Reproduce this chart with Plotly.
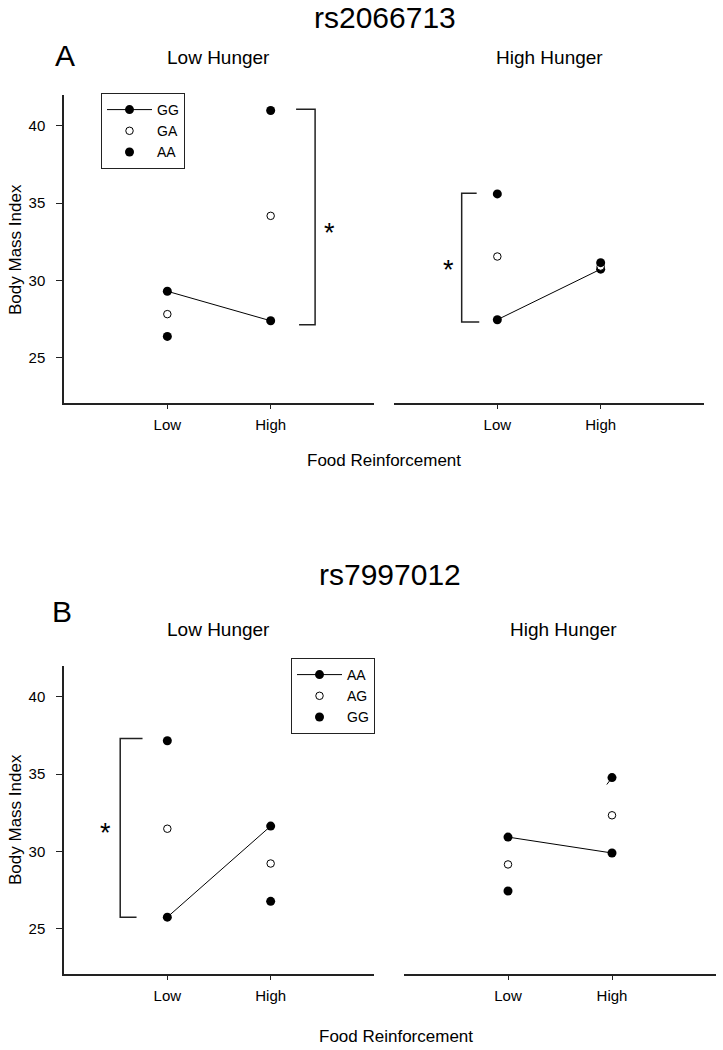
import plotly.graph_objects as go

# ---------------- data ----------------
levels = ["Low", "High"]
level_x = [1, 2]

# Panel A: rs2066713
a_low_hunger = {"GG": [29.3, 27.39], "GA": [27.82, 34.18], "AA": [26.38, 41.0]}
a_high_hunger = {"GG": [27.46, 30.73], "GA": [31.55, 30.9], "AA": [35.6, 31.15]}
a_genotypes = ["GG", "GA", "AA"]

# Panel B: rs7997012
b_low_hunger = {"AA": [25.75, 31.64], "AG": [31.47, 29.22], "GG": [37.16, 26.77]}
b_high_hunger = {"AA": [30.93, 29.9], "AG": [29.16, 32.34], "GG": [27.44, 34.78]}
b_genotypes = ["AA", "AG", "GG"]

# significance brackets: (vertical x, top arm end x, bottom arm end x, top y, bottom y, star x, star y)
bracket_a_low = [2.43, 2.246, 2.275, 41.08, 27.13, 2.565, 33.4]
bracket_a_high = [0.655, 0.80, 0.825, 35.65, 27.31, 0.53, 31.0]
bracket_b_low = [0.544, 0.760, 0.702, 37.31, 25.75, 0.40, 31.5]

yticks = [25, 30, 35, 40]

W, H = 723, 1050
FONT = "Liberation Sans, Arial, sans-serif"


def px(x):
    return x / W


def py(y):
    return 1 - y / H


fig = go.Figure()

styles = [
    dict(mode="lines+markers", marker=dict(size=9, color="black"), line=dict(color="black", width=1)),
    dict(mode="markers", marker=dict(size=7.5, color="white", line=dict(color="black", width=1))),
    dict(mode="markers", marker=dict(size=9, color="black")),
]


def add_panel(data, genos, xa, ya, legend, showlegend):
    for g, st in zip(genos, styles):
        fig.add_trace(go.Scatter(
            x=level_x, y=data[g], name=g, xaxis=xa, yaxis=ya,
            legend=legend, showlegend=showlegend, hoverinfo="skip", **st))


add_panel(a_low_hunger, a_genotypes, "x", "y", "legend", True)
add_panel(a_high_hunger, a_genotypes, "x2", "y2", "legend", False)
add_panel(b_low_hunger, b_genotypes, "x3", "y3", "legend2", True)
add_panel(b_high_hunger, b_genotypes, "x4", "y4", "legend2", False)

# small stray tick on GG point (panel B, high hunger)
gg_hi = b_high_hunger["GG"][1]
fig.add_trace(go.Scatter(x=[level_x[1] - 0.05, level_x[1]], y=[gg_hi - 0.45, gg_hi],
                         mode="lines", line=dict(color="black", width=1),
                         xaxis="x4", yaxis="y4", showlegend=False, hoverinfo="skip"))


def add_bracket(b, xa, ya):
    vx, tx, bx, ty, by, sx, sy = b
    fig.add_trace(go.Scatter(x=[tx, vx, vx, bx], y=[ty, ty, by, by], mode="lines",
                             line=dict(color="#222", width=1.5), xaxis=xa, yaxis=ya,
                             showlegend=False, hoverinfo="skip"))
    fig.add_annotation(x=sx, y=sy, xref=xa, yref=ya, text="*", showarrow=False,
                       font=dict(size=27, family=FONT, color="black"), yshift=-5)


add_bracket(bracket_a_low, "x", "y")
add_bracket(bracket_a_high, "x2", "y2")
add_bracket(bracket_b_low, "x3", "y3")

xcommon = dict(range=[0, 3], tickvals=level_x, ticktext=levels, showline=True, linecolor="#222",
               linewidth=1.5, ticks="outside", ticklen=4, tickcolor="#222", showgrid=False,
               zeroline=False, tickfont=dict(size=15, family=FONT, color="black"),
               ticklabelstandoff=3, fixedrange=True)
yleft = dict(range=[22.07, 42.0], tickvals=yticks, showline=True, linecolor="#222", linewidth=1.5,
             ticks="outside", ticklen=6, tickcolor="#222", showgrid=False, zeroline=False,
             tickfont=dict(size=15, family=FONT, color="black"), ticklabelstandoff=8)
yright = dict(range=[22.07, 42.0], showline=False, showticklabels=False, ticks="",
              showgrid=False, zeroline=False)

yA = [py(403), py(95)]
yB = [py(974), py(666)]

legend_style = dict(xanchor="left", yanchor="top", bordercolor="#222", borderwidth=1,
                    bgcolor="white", font=dict(size=14, family=FONT, color="black"),
                    itemwidth=45, tracegroupgap=0)

fig.update_layout(
    width=W, height=H, autosize=False,
    margin=dict(l=0, r=0, t=0, b=0),
    paper_bgcolor="white", plot_bgcolor="white",
    font=dict(family=FONT, color="black"),
    xaxis=dict(domain=[px(64), px(374)], anchor="y", **xcommon),
    yaxis=dict(domain=yA, anchor="x", **yleft),
    xaxis2=dict(domain=[px(394), px(704)], anchor="y2", **xcommon),
    yaxis2=dict(domain=yA, anchor="x2", **yright),
    xaxis3=dict(domain=[px(64), px(374)], anchor="y3", **xcommon),
    yaxis3=dict(domain=yB, anchor="x3", **yleft),
    xaxis4=dict(domain=[px(404), px(716)], anchor="y4", **xcommon),
    yaxis4=dict(domain=yB, anchor="x4", **yright),
    legend=dict(x=px(101), y=py(93), **legend_style),
    legend2=dict(x=px(291), y=py(658), **legend_style),
)


def txt(text, x, y, size, angle=0):
    fig.add_annotation(x=px(x), y=py(y), xref="paper", yref="paper", text=text, showarrow=False,
                       xanchor="center", yanchor="middle", textangle=angle,
                       font=dict(size=size, family=FONT, color="black"))


txt("rs2066713", 385, 18, 30)
txt("A", 65, 55, 30)
txt("Low Hunger", 219, 58, 19)
txt("High Hunger", 549, 58, 19)
txt("Body Mass Index", 15, 250, 17, -90)
txt("Food Reinforcement", 384, 461, 17)

txt("rs7997012", 390, 574, 30)
txt("B", 62, 611, 30)
txt("Low Hunger", 219, 629, 19)
txt("High Hunger", 563, 629, 19)
txt("Body Mass Index", 15, 820, 17, -90)
txt("Food Reinforcement", 396, 1036, 17)

fig.write_html("out.html", config={"displayModeBar": False},
               post_script="document.body.style.margin='0px';")
